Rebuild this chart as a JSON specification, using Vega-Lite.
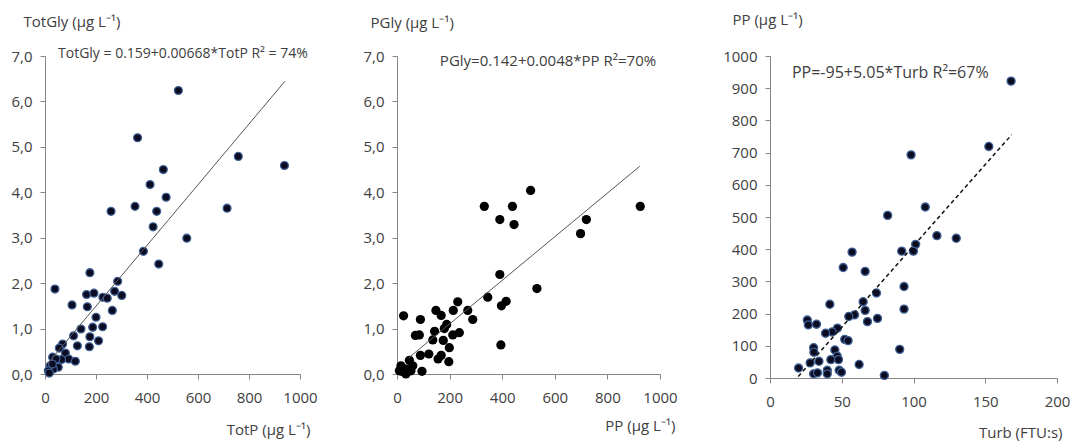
{
  "$schema": "https://vega.github.io/schema/vega-lite/v6.json",
  "background": "white",
  "padding": {"left": 10, "top": 12, "right": 5, "bottom": 5},
  "spacing": 44,
  "config": {
    "font": "Open Sans",
    "view": {"stroke": null},
    "axis": {
      "grid": false,
      "domainColor": "#868686",
      "tickColor": "#868686",
      "tickSize": 5,
      "labelColor": "#404040",
      "labelFont": "Open Sans",
      "labelFontSize": 15,
      "labelOverlap": false,
      "labelFlush": false,
      "titleColor": "#404040",
      "titleFont": "Open Sans",
      "titleFontSize": 15,
      "titleFontWeight": "normal"
    },
    "axisX": {"labelPadding": 11},
    "axisY": {"labelPadding": 8}
  },
  "datasets": {
    "one": [{}],
    "p1": [
      {"TotP": 523, "TotGly": 6.24}, {"TotP": 363, "TotGly": 5.2}, {"TotP": 758, "TotGly": 4.79},
      {"TotP": 939, "TotGly": 4.59}, {"TotP": 464, "TotGly": 4.5}, {"TotP": 412, "TotGly": 4.17},
      {"TotP": 475, "TotGly": 3.89}, {"TotP": 353, "TotGly": 3.69}, {"TotP": 259, "TotGly": 3.58},
      {"TotP": 438, "TotGly": 3.58}, {"TotP": 714, "TotGly": 3.65}, {"TotP": 424, "TotGly": 3.24},
      {"TotP": 556, "TotGly": 2.99}, {"TotP": 386, "TotGly": 2.7}, {"TotP": 446, "TotGly": 2.42},
      {"TotP": 176, "TotGly": 2.23}, {"TotP": 285, "TotGly": 2.04}, {"TotP": 39, "TotGly": 1.87},
      {"TotP": 163, "TotGly": 1.75}, {"TotP": 192, "TotGly": 1.78}, {"TotP": 273, "TotGly": 1.82},
      {"TotP": 301, "TotGly": 1.73}, {"TotP": 227, "TotGly": 1.69}, {"TotP": 244, "TotGly": 1.67},
      {"TotP": 106, "TotGly": 1.52}, {"TotP": 166, "TotGly": 1.48}, {"TotP": 264, "TotGly": 1.4},
      {"TotP": 200, "TotGly": 1.25}, {"TotP": 141, "TotGly": 0.99}, {"TotP": 187, "TotGly": 1.03},
      {"TotP": 226, "TotGly": 1.04}, {"TotP": 112, "TotGly": 0.84}, {"TotP": 176, "TotGly": 0.82},
      {"TotP": 210, "TotGly": 0.73}, {"TotP": 127, "TotGly": 0.62}, {"TotP": 174, "TotGly": 0.6},
      {"TotP": 69, "TotGly": 0.66}, {"TotP": 56, "TotGly": 0.57}, {"TotP": 80, "TotGly": 0.46},
      {"TotP": 93, "TotGly": 0.33}, {"TotP": 119, "TotGly": 0.28}, {"TotP": 65, "TotGly": 0.32},
      {"TotP": 30, "TotGly": 0.37}, {"TotP": 43, "TotGly": 0.33}, {"TotP": 20, "TotGly": 0.18},
      {"TotP": 52, "TotGly": 0.15}, {"TotP": 33, "TotGly": 0.11}, {"TotP": 13, "TotGly": 0.07},
      {"TotP": 17, "TotGly": 0.02}, {"TotP": 29, "TotGly": 0.22}
    ],
    "p2": [
      {"PP": 508, "PGly": 4.04}, {"PP": 332, "PGly": 3.69}, {"PP": 439, "PGly": 3.69},
      {"PP": 925, "PGly": 3.69}, {"PP": 391, "PGly": 3.4}, {"PP": 720, "PGly": 3.4},
      {"PP": 445, "PGly": 3.29}, {"PP": 698, "PGly": 3.09}, {"PP": 391, "PGly": 2.19},
      {"PP": 532, "PGly": 1.88}, {"PP": 345, "PGly": 1.69}, {"PP": 415, "PGly": 1.6},
      {"PP": 397, "PGly": 1.5}, {"PP": 231, "PGly": 1.59}, {"PP": 214, "PGly": 1.4},
      {"PP": 269, "PGly": 1.4}, {"PP": 148, "PGly": 1.4}, {"PP": 168, "PGly": 1.29},
      {"PP": 25, "PGly": 1.28}, {"PP": 89, "PGly": 1.2}, {"PP": 288, "PGly": 1.2},
      {"PP": 189, "PGly": 1.09}, {"PP": 180, "PGly": 1.0}, {"PP": 143, "PGly": 0.94},
      {"PP": 237, "PGly": 0.91}, {"PP": 212, "PGly": 0.86}, {"PP": 70, "PGly": 0.85},
      {"PP": 85, "PGly": 0.86}, {"PP": 136, "PGly": 0.75}, {"PP": 176, "PGly": 0.74},
      {"PP": 199, "PGly": 0.58}, {"PP": 395, "PGly": 0.64}, {"PP": 121, "PGly": 0.44},
      {"PP": 89, "PGly": 0.41}, {"PP": 168, "PGly": 0.41}, {"PP": 156, "PGly": 0.33},
      {"PP": 197, "PGly": 0.27}, {"PP": 47, "PGly": 0.3}, {"PP": 60, "PGly": 0.18},
      {"PP": 15, "PGly": 0.18}, {"PP": 34, "PGly": 0.11}, {"PP": 95, "PGly": 0.06},
      {"PP": 9, "PGly": 0.07}, {"PP": 34, "PGly": 0.0}, {"PP": 22, "PGly": 0.05},
      {"PP": 53, "PGly": 0.07}
    ],
    "p3": [
      {"Turb": 168, "PP": 922}, {"Turb": 152.5, "PP": 719}, {"Turb": 98.3, "PP": 693},
      {"Turb": 108.2, "PP": 531}, {"Turb": 82, "PP": 505}, {"Turb": 116.3, "PP": 442},
      {"Turb": 129.8, "PP": 434}, {"Turb": 101.5, "PP": 415}, {"Turb": 91.8, "PP": 394},
      {"Turb": 99.9, "PP": 394}, {"Turb": 57.2, "PP": 391}, {"Turb": 51, "PP": 343},
      {"Turb": 66.3, "PP": 331}, {"Turb": 93.4, "PP": 284}, {"Turb": 74.2, "PP": 264},
      {"Turb": 64.9, "PP": 237}, {"Turb": 41.7, "PP": 229}, {"Turb": 93.4, "PP": 214},
      {"Turb": 66.3, "PP": 210}, {"Turb": 58.9, "PP": 196}, {"Turb": 54.9, "PP": 191},
      {"Turb": 74.9, "PP": 185}, {"Turb": 26, "PP": 180}, {"Turb": 26.7, "PP": 165},
      {"Turb": 32.4, "PP": 167}, {"Turb": 67.9, "PP": 175}, {"Turb": 47, "PP": 155},
      {"Turb": 43.3, "PP": 143}, {"Turb": 38.7, "PP": 139}, {"Turb": 52.1, "PP": 120},
      {"Turb": 54.4, "PP": 116}, {"Turb": 30.4, "PP": 94}, {"Turb": 90.4, "PP": 89},
      {"Turb": 45.2, "PP": 87}, {"Turb": 30.6, "PP": 80}, {"Turb": 46.8, "PP": 68},
      {"Turb": 34.1, "PP": 52}, {"Turb": 42.4, "PP": 57}, {"Turb": 47.7, "PP": 57},
      {"Turb": 28, "PP": 47}, {"Turb": 62.1, "PP": 42}, {"Turb": 19.9, "PP": 31},
      {"Turb": 39.9, "PP": 24}, {"Turb": 48.2, "PP": 24}, {"Turb": 49.8, "PP": 18},
      {"Turb": 30.4, "PP": 13}, {"Turb": 39.9, "PP": 13}, {"Turb": 79.7, "PP": 8},
      {"Turb": 33.1, "PP": 16}
    ]
  },
  "hconcat": [
    {
      "width": 255,
      "height": 318,
      "layer": [
        {
          "data": {"name": "p1"},
          "mark": {"type": "point", "filled": true, "shape": "circle", "size": 62, "fill": "#0b0b22", "stroke": "#3f5f92", "strokeWidth": 1.3, "opacity": 1},
          "encoding": {
            "x": {"field": "TotP", "type": "quantitative",
              "scale": {"domain": [0, 1000], "nice": false},
              "axis": {"values": [0, 200, 400, 600, 800, 1000], "format": "d", "title": "TotP  (µg L⁻¹)", "titleAlign": "right", "titleBaseline": "middle", "titleX": 265, "titleY": 55}},
            "y": {"field": "TotGly", "type": "quantitative",
              "scale": {"domain": [0, 7], "nice": false},
              "axis": {"values": [0, 1, 2, 3, 4, 5, 6, 7], "labelExpr": "replace(format(datum.value, '.1f'), '.', ',')", "title": "TotGly (µg L⁻¹)", "titleAngle": 0, "titleAlign": "left", "titleBaseline": "alphabetic", "titleX": -22, "titleY": -30}}
          }
        },
        {
          "data": {"name": "one"},
          "mark": {"type": "rule", "color": "#555555", "strokeWidth": 1},
          "encoding": {"x": {"datum": 10}, "y": {"datum": 0.226}, "x2": {"datum": 941}, "y2": {"datum": 6.445}}
        },
        {
          "data": {"name": "one"},
          "mark": {"type": "text", "align": "left", "baseline": "middle", "fontSize": 14, "color": "#404040"},
          "encoding": {"x": {"datum": 51}, "y": {"datum": 7.04}, "text": {"value": "TotGly = 0.159+0.00668*TotP R² = 74%"}}
        }
      ]
    },
    {
      "width": 263,
      "height": 318,
      "layer": [
        {
          "data": {"name": "p2"},
          "mark": {"type": "point", "filled": true, "shape": "circle", "size": 85, "fill": "#000000", "opacity": 1},
          "encoding": {
            "x": {"field": "PP", "type": "quantitative",
              "scale": {"domain": [0, 1000], "nice": false},
              "axis": {"values": [0, 200, 400, 600, 800, 1000], "format": "d", "title": "PP (µg L⁻¹)", "titleAlign": "right", "titleBaseline": "middle", "titleX": 278, "titleY": 51}},
            "y": {"field": "PGly", "type": "quantitative",
              "scale": {"domain": [0, 7], "nice": false},
              "axis": {"values": [0, 1, 2, 3, 4, 5, 6, 7], "labelExpr": "replace(format(datum.value, '.1f'), '.', ',')", "title": "PGly (µg L⁻¹)", "titleAngle": 0, "titleAlign": "left", "titleBaseline": "alphabetic", "titleX": -27, "titleY": -29}}
          }
        },
        {
          "data": {"name": "one"},
          "mark": {"type": "rule", "color": "#555555", "strokeWidth": 1},
          "encoding": {"x": {"datum": 45}, "y": {"datum": 0.358}, "x2": {"datum": 923}, "y2": {"datum": 4.572}}
        },
        {
          "data": {"name": "one"},
          "mark": {"type": "text", "align": "left", "baseline": "middle", "fontSize": 15, "color": "#404040"},
          "encoding": {"x": {"datum": 163}, "y": {"datum": 6.9}, "text": {"value": "PGly=0.142+0.0048*PP R²=70%"}}
        }
      ]
    },
    {
      "width": 287,
      "height": 322,
      "layer": [
        {
          "data": {"name": "p3"},
          "mark": {"type": "point", "filled": true, "shape": "circle", "size": 65, "fill": "#0b0b22", "stroke": "#3f5f92", "strokeWidth": 1.3, "opacity": 1},
          "encoding": {
            "x": {"field": "Turb", "type": "quantitative",
              "scale": {"domain": [0, 200], "nice": false},
              "axis": {"values": [0, 50, 100, 150, 200], "title": "Turb (FTU:s)", "titleAlign": "right", "titleBaseline": "middle", "titleX": 292, "titleY": 54}},
            "y": {"field": "PP", "type": "quantitative",
              "scale": {"domain": [0, 1000], "nice": false},
              "axis": {"values": [0, 100, 200, 300, 400, 500, 600, 700, 800, 900, 1000], "tickCount": 11, "format": "d", "title": "PP (µg L⁻¹)", "titleAngle": 0, "titleAlign": "left", "titleBaseline": "alphabetic", "titleX": -38, "titleY": -32}}
          }
        },
        {
          "data": {"name": "one"},
          "mark": {"type": "rule", "color": "#111111", "strokeWidth": 1.5, "strokeDash": [4, 3]},
          "encoding": {
            "x": {"datum": 19.7},
            "y": {"datum": 4.5, "axis": {"values": [0, 100, 200, 300, 400, 500, 600, 700, 800, 900, 1000], "tickCount": 11, "format": "d", "title": "PP (µg L⁻¹)", "titleAngle": 0, "titleAlign": "left", "titleBaseline": "alphabetic", "titleX": -38, "titleY": -32}},
            "x2": {"datum": 168.4},
            "y2": {"datum": 755.4}
          }
        },
        {
          "data": {"name": "one"},
          "mark": {"type": "text", "align": "left", "baseline": "middle", "fontSize": 16, "color": "#404040"},
          "encoding": {
            "x": {"datum": 15.3},
            "y": {"datum": 947, "axis": {"values": [0, 100, 200, 300, 400, 500, 600, 700, 800, 900, 1000], "tickCount": 11, "format": "d", "title": "PP (µg L⁻¹)", "titleAngle": 0, "titleAlign": "left", "titleBaseline": "alphabetic", "titleX": -38, "titleY": -32}},
            "text": {"value": "PP=-95+5.05*Turb R²=67%"}
          }
        }
      ]
    }
  ]
}
